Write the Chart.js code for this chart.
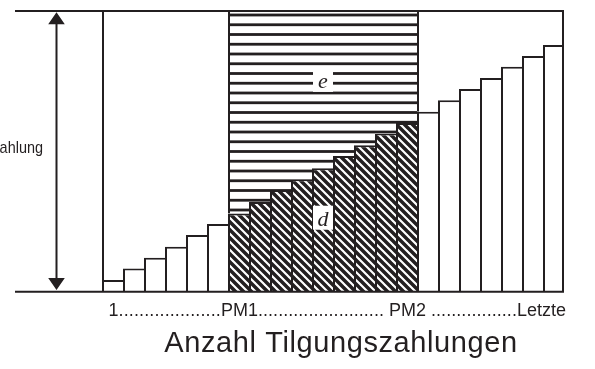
<!DOCTYPE html>
<html>
<head>
<meta charset="utf-8">
<script src="https://cdn.jsdelivr.net/npm/chart.js@4.4.1/dist/chart.umd.min.js"></script>
<style>
  html, body { margin: 0; padding: 0; background: #fff; }
</style>
</head>
<body>
<canvas id="chart" width="595" height="369"></canvas>
<script>
// Tilgungsplan: je Zahlung Tilgungsanteil (d), der Rest bis zur Zahlung ist Zins (e)
const payments = ['1', '2', '3', '4', '5', '6', '7', '8', '9', '10', '11',
                  '12', '13', '14', '15', '16', '17', '18', '19', '20', '21', '22'];
const principal = [4.2, 8.3, 12.1, 16.0, 20.2, 24.1, 27.9, 32.0, 36.2, 40.1, 44.0,
                   48.3, 52.2, 56.4, 60.1, 64.1, 68.2, 72.2, 76.1, 80.1, 84.0, 87.9];
const totalPayment = 100;
const interest = principal.map(v => totalPayment - v);

const pm1Index = 6;   // PM1 = 7. Zahlung
const pm2Index = 14;  // PM2 = 15. Zahlung
const axisMarks = ['1', 'PM1', 'PM2', 'Letzte'];
const markIndex = [0, pm1Index, pm2Index, payments.length - 1];
const regionLabels = [{ text: 'd', index: 10, value: 23.5 }, { text: 'e', index: 10, value: 72.6 }];

const ink = '#231f20';
const sans = '"Liberation Sans", Arial, Helvetica, sans-serif';
const canvas = document.getElementById('chart');
const ctx = canvas.getContext('2d');

const inRange = i => i >= pm1Index && i <= pm2Index;
const last = payments.length - 1;

// diagonal hatch for d
const hatch = (() => {
    const s = 8;
    const c = document.createElement('canvas');
    c.width = s; c.height = s;
    const g = c.getContext('2d');
    g.fillStyle = '#fff'; g.fillRect(0, 0, s, s);
    g.strokeStyle = ink; g.lineWidth = 3.5;
    g.beginPath();
    for (let k = -1; k <= 1; k++) { g.moveTo(-1, k * s - 1); g.lineTo(s + 1, k * s + s + 1); }
    g.stroke();
    return ctx.createPattern(c, 'repeat');
})();

// horizontal stripes for e
const stripes = (() => {
    const c = document.createElement('canvas');
    c.width = 4; c.height = 39;
    const g = c.getContext('2d');
    g.fillStyle = '#fff'; g.fillRect(0, 0, 4, 39);
    g.fillStyle = ink;
    [5.25, 15, 24.75, 34.5].forEach(y => g.fillRect(0, y - 1.4, 4, 2.8));
    return ctx.createPattern(c, 'repeat');
})();

// writes a run of dots that exactly fills [from, to]
const dotRun = (ctx, from, to, y) => {
    const dotW = ctx.measureText('.').width;
    const n = Math.max(1, Math.round((to - from) / dotW));
    ctx.letterSpacing = ((to - from) / n - dotW) + 'px';
    ctx.fillText('.'.repeat(n), from, y);
    ctx.letterSpacing = '0px';
};

const decor = {
    id: 'decor',
    afterDatasetsDraw(chart) {
        const { ctx, chartArea: a, scales: { x, y } } = chart;
        const yTop = y.getPixelForValue(totalPayment);
        const yBase = y.getPixelForValue(0);
        ctx.save();
        ctx.strokeStyle = ink; ctx.fillStyle = ink; ctx.lineWidth = 2;

        // top and base lines
        ctx.beginPath();
        ctx.moveTo(a.left - 87, yTop); ctx.lineTo(a.right, yTop);
        ctx.moveTo(a.left - 87, yBase); ctx.lineTo(a.right, yBase);
        ctx.stroke();

        // double arrow
        const ax = a.left - 45.5;
        const t = yTop + 1.3, b = yBase - 1.7;
        ctx.beginPath(); ctx.moveTo(ax, t + 10); ctx.lineTo(ax, b - 10); ctx.stroke();
        ctx.beginPath();
        ctx.moveTo(ax, t); ctx.lineTo(ax - 8.3, t + 12); ctx.lineTo(ax + 8.3, t + 12); ctx.closePath();
        ctx.moveTo(ax, b); ctx.lineTo(ax - 8.3, b - 12); ctx.lineTo(ax + 8.3, b - 12); ctx.closePath();
        ctx.fill();

        // left label (narrow face, cut at the left edge as in the original)
        ctx.save();
        ctx.font = '17px ' + sans;
        ctx.textAlign = 'right'; ctx.textBaseline = 'alphabetic';
        ctx.translate(a.left - 59, (yTop + yBase) / 2 + 1.5);
        ctx.scale(0.85, 1);
        ctx.fillText('Zahlung', 0, 0);
        ctx.restore();

        // region labels
        ctx.font = 'italic 22px "Liberation Serif", "Times New Roman", serif';
        ctx.textAlign = 'center';
        regionLabels.forEach(l => {
            const cx = x.getPixelForValue(l.index) + 0.5;
            const by = y.getPixelForValue(l.value);
            const m = ctx.measureText(l.text);
            ctx.fillStyle = '#fff';
            ctx.fillRect(cx - 10, by - m.actualBoundingBoxAscent - 6, 20, m.actualBoundingBoxAscent + 10);
            ctx.fillStyle = ink;
            ctx.fillText(l.text, cx, by);
        });

        // axis marks with dot leaders
        ctx.font = '18px ' + sans;
        ctx.textAlign = 'left';
        const w = s => ctx.measureText(s).width;
        const spW = w(' ');
        const ty = yBase + 24.5;
        const xs = markIndex.slice(0, 3).map((i, k) => x.getPixelForValue(i) + 1 - w(axisMarks[k]) / 2);
        xs.push(a.right + 2 - w(axisMarks[3]));
        axisMarks.forEach((m, k) => ctx.fillText(m, xs[k], ty));
        dotRun(ctx, xs[0] + w(axisMarks[0]), xs[1], ty);
        dotRun(ctx, xs[1] + w(axisMarks[1]), xs[2] - spW, ty);
        dotRun(ctx, xs[2] + w(axisMarks[2]) + spW, xs[3], ty);

        // axis title
        ctx.font = '29px ' + sans;
        ctx.letterSpacing = '0.6px';
        ctx.textAlign = 'center';
        ctx.fillText('Anzahl Tilgungszahlungen', (a.left + a.right) / 2 + 8, yBase + 60);
        ctx.restore();
    }
};

new Chart(ctx, {
    type: 'bar',
    data: {
        labels: payments,
        datasets: [
            {
                label: 'Tilgung (d)', data: principal,
                backgroundColor: c => inRange(c.dataIndex) ? hatch : '#fff',
                borderColor: ink,
                borderWidth: c => ({ top: 2, left: 2, right: c.dataIndex === last ? 2 : 0, bottom: 0 }),
                borderSkipped: false, inflateAmount: 0
            },
            {
                label: 'Zins (e)', data: interest,
                backgroundColor: c => inRange(c.dataIndex) ? stripes : 'rgba(0,0,0,0)',
                borderColor: ink,
                borderWidth: c => ({
                    top: 0, bottom: 0,
                    left: [0, pm1Index, pm2Index + 1].includes(c.dataIndex) ? 2 : 0,
                    right: c.dataIndex === last ? 2 : 0
                }),
                borderSkipped: false, inflateAmount: 0
            }
        ]
    },
    options: {
        responsive: false,
        animation: false,
        layout: { padding: { left: 102, right: 31, top: 11, bottom: 77.3 } },
        datasets: { bar: { categoryPercentage: 1, barPercentage: 1 } },
        scales: {
            x: { stacked: true, display: false },
            y: { stacked: true, display: false, min: 0, max: totalPayment }
        },
        plugins: { legend: { display: false }, tooltip: { enabled: false } }
    },
    plugins: [decor]
});
</script>
</body>
</html>
